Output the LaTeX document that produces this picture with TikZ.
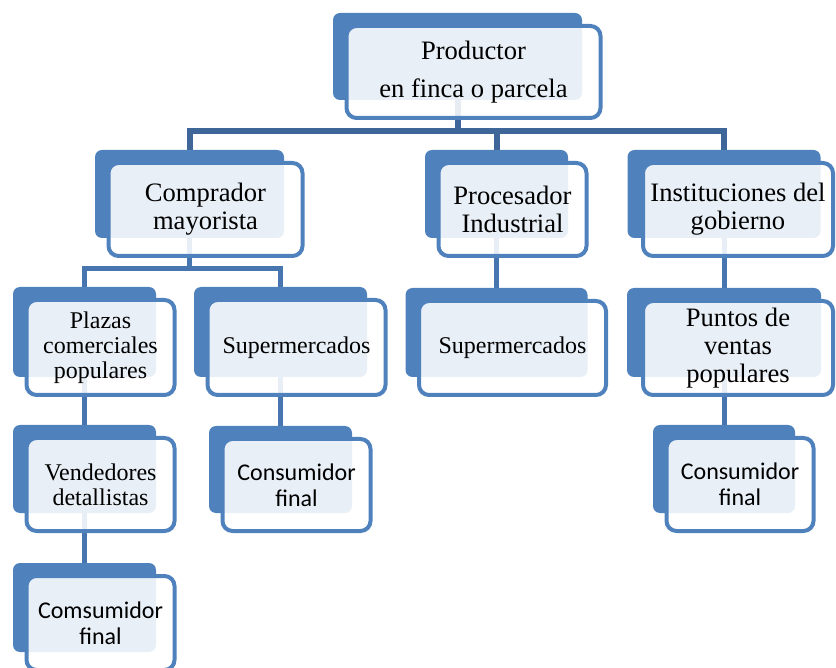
\documentclass[tikz,border=0pt]{standalone}
\usepackage{fontspec}
\setmainfont{Liberation Serif}
\newfontfamily\calibri{Carlito}
\usepackage{tikz}
\usetikzlibrary{positioning,calc,backgrounds}
\definecolor{boxblue}{HTML}{4F81BD}
\definecolor{linkblue}{HTML}{4675AF}
\definecolor{busblue}{HTML}{3E6699}
\newdimen\pxu
\pxu=0.5pt

\begin{document}
\begin{tikzpicture}[x=0.5pt, y=-0.5pt,
back/.style={
% The shape:
rectangle, rounded corners=3.5pt,
% The size:
minimum width=143\pxu, minimum height=88\pxu,
% The filling:
fill=boxblue, inner sep=0pt
},
front/.style={
% The shape:
rectangle, rounded corners=5pt,
% The size:
minimum width=148\pxu, minimum height=93\pxu,
% The border:
line width=2pt, draw=boxblue,
% The filling: white, the blue one shows through
fill=white, fill opacity=0.88, text opacity=1,
align=center, inner sep=1pt
},
serifbig/.style={font=\fontsize{13.3}{14}\selectfont},
serifsmall/.style={font=\fontsize{12}{12.4}\selectfont},
sans/.style={font=\calibri\fontsize{12}{13}\selectfont},
link/.style={line width=2.5pt, draw=linkblue},
buslink/.style={line width=3pt, draw=busblue}
]
\useasboundingbox (0,0) rectangle (836,668);

% first row
\node (prod) [back, minimum width=249\pxu, minimum height=87\pxu] at (457.5,56.5) {};
\node (prodtxt) [front, serifbig, minimum width=254\pxu, minimum height=92\pxu] at ($(prod)+(16,15.5)$) {Productor\\[5pt] en finca o parcela};

% second row
\node (comp) [back, minimum width=189\pxu] at (189.5,194) {};
\node (comptxt) [front, serifbig, minimum width=194\pxu] at ($(comp)+(16,15.5)$) {Comprador\\ mayorista};
\node (proc) [back] at (496.5,194) {};
\node (proctxt) [front, serifbig] at ($(proc)+(16,15.5)$) {Procesador\\ Industrial};
\node (inst) [back, minimum width=193\pxu] at (724,194) {};
\node (insttxt) [front, serifbig, minimum width=190\pxu] at ($(inst)+(14,15.5)$) {Instituciones del\\ gobierno};

% third row
\node (plaz) [back, minimum height=90\pxu] at (84.5,332) {};
\node (plaztxt) [front, serifsmall, minimum height=95\pxu] at ($(plaz)+(16,15.5)$) {Plazas\\ comerciales\\ populares};
\node (superA) [back, minimum width=173\pxu, minimum height=90\pxu] at (280.5,332) {};
\node (superAtxt) [front, serifsmall, minimum width=178\pxu, minimum height=95\pxu] at ($(superA)+(16,15.5)$) {Supermercados};
\node (superB) [back, minimum width=182\pxu, minimum height=89\pxu] at (496.5,332.5) {};
\node (superBtxt) [front, serifsmall, minimum width=187\pxu, minimum height=94\pxu] at ($(superB)+(16,15.5)$) {Supermercados};
\node (punt) [back, minimum width=194\pxu, minimum height=89\pxu] at (724,332.5) {};
\node (punttxt) [front, serifbig, minimum width=190\pxu, minimum height=94\pxu] at ($(punt)+(14,15.5)$) {Puntos de\\ ventas\\ populares};

% fourth row
\node (vend) [back] at (84.5,469) {};
\node (vendtxt) [front, serifsmall] at ($(vend)+(16,15.5)$) {Vendedores\\ detallistas};
\node (consA) [back, minimum height=87\pxu] at (280.5,469.5) {};
\node (consAtxt) [front, sans, minimum height=92\pxu] at ($(consA)+(16,15.5)$) {Consumidor\\ final};
\node (consB) [back, minimum width=142\pxu] at (724,469) {};
\node (consBtxt) [front, sans, minimum width=147\pxu] at ($(consB)+(16,15.5)$) {Consumidor\\ final};

% last row
\node (comsu) [back, minimum height=89\pxu] at (84.5,607.5) {};
\node (comsutxt) [front, sans, minimum height=94\pxu] at ($(comsu)+(16,15.5)$) {Comsumidor\\ final};

\begin{scope}[on background layer]
\coordinate (bus1) at (458,131);
\coordinate (bus2) at (189.5,269);
\draw[buslink] (prod.center) -- (prod.center |- bus1);
\draw[buslink] (comp.center) |- (bus1) -| (inst.center);
\draw[buslink] (proc.center) -- (proc.center |- bus1);
\draw[link] (comp.center) -- (bus2);
\draw[link] (plaz.center) |- (bus2) -| (superA.center);
\draw[link] (proc.center) -- (superB.center);
\draw[link] (inst.center) -- (punt.center) -- (consB.center);
\draw[link] (plaz.center) -- (vend.center) -- (comsu.center);
\draw[link] (superA.center) -- (consA.center);
\end{scope}
\end{tikzpicture}
\end{document}
